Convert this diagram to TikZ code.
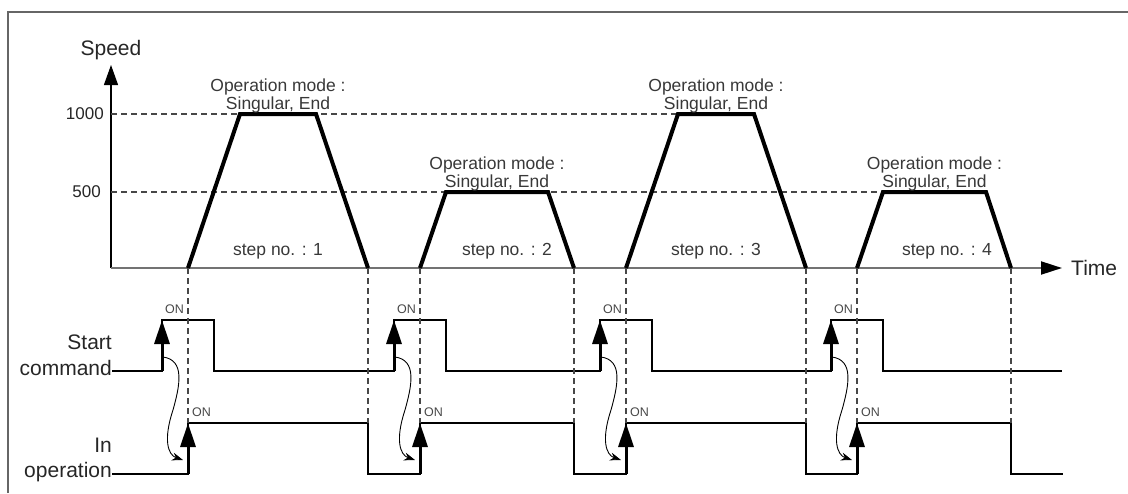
\documentclass[tikz,border=0pt]{standalone}
\usepackage{fontspec}
\setmainfont{Liberation Sans}
\usetikzlibrary{arrows.meta}

\begin{document}
\begin{tikzpicture}[
  x=1pt, y=-1pt,
  lbl/.style={font=\fontsize{21}{24}\selectfont, text=black!85, inner sep=0pt},
  val/.style={font=\fontsize{17}{20}\selectfont, text=black!85, inner sep=0pt},
  note/.style={font=\fontsize{17.5}{20}\selectfont, text=black!78, inner sep=0pt},
  onlbl/.style={font=\fontsize{12.5}{14}\selectfont, text=black!72, inner sep=0pt},
  guide/.style={draw=black!72, line width=1.1pt, dash pattern=on 6pt off 4pt},
  profile/.style={line width=4pt, line join=miter},
  sig/.style={line width=1.3pt},
  edge/.style={line width=3pt, -{Triangle[length=24pt, width=15pt]}},
  cause/.style={line width=0.9pt, -{Stealth[length=11pt, width=8pt]}}
]
\useasboundingbox (0,0) rectangle (1128,493);
\draw[black!60, line width=1.5pt] (8,493) |- (1128,12);

% axes
\coordinate (O) at (111,268);
\coordinate (ytip) at (111,65);
\coordinate (xtip) at (1062,268);
\draw[line width=1.3pt, -{Triangle[length=20pt, width=14pt]}] (O) -- (ytip);
\draw[black!55, line width=2pt, -{Triangle[length=21pt, width=13pt, color=black]}] (O) -- (xtip);
\node[lbl] (speed) at (111,50) {Speed};
\node[lbl, anchor=west] (time) at (1071,268) {Time};
\node[val, anchor=east] (v1000) at (104,114) {1000};
\node[val, anchor=east] (v500) at (101,192) {500};
\draw[guide] (111,114) -- (754,114);
\draw[guide] (111,192) -- (883,192);

% signal names
\node[lbl, anchor=base east] (startA) at (112,349) {Start};
\node[lbl, anchor=base east] (startB) at (112,375) {command};
\node[lbl, anchor=base east] (runA) at (112,452) {In};
\node[lbl, anchor=base east] (runB) at (112,477) {operation};

% signals
\draw[sig] (112,371) -- (162,371) -- (162,320) -- (214,320) -- (214,371)
  -- (394,371) -- (394,320) -- (446,320) -- (446,371)
  -- (600,371) -- (600,320) -- (652,320) -- (652,371)
  -- (831,371) -- (831,320) -- (883,320) -- (883,371) -- (1062,371);
\draw[sig] (112,474) -- (188,474) -- (188,423) -- (368,423) -- (368,474)
  -- (420,474) -- (420,423) -- (574,423) -- (574,474)
  -- (626,474) -- (626,423) -- (806,423) -- (806,474)
  -- (857,474) -- (857,423) -- (1011,423) -- (1011,474) -- (1063,474);

% steps
\foreach \n/\a/\b/\c/\d/\v/\sx in {1/188/240/316/368/114/278,
    2/420/446/548/574/192/507, 3/626/678/754/806/114/716,
    4/857/883/986/1011/192/947} {
  \pgfmathsetmacro\r{\a-26}
  \pgfmathsetmacro\m{(\b+\c)/2}
  \draw[profile] (\a,268) -- (\b,\v) -- (\c,\v) -- (\d,268);
  \node[note] (mode\n) at (\m,\v-27) {Operation mode :};
  \node[note] (kind\n) at (\m,\v-9) {Singular, End};
  \node[note] (step\n) at (\sx,251) {step no. : \n};
  \draw[guide] (\a,268) -- (\a,423);
  \draw[guide] (\d,268) -- (\d,423);
  \coordinate (rise\n) at (\r,371);
  \coordinate (high\n) at (\r,320);
  \coordinate (busy\n) at (\a,474);
  \coordinate (run\n) at (\a,423);
  \draw[edge] (rise\n) -- (high\n);
  \draw[edge] (busy\n) -- (run\n);
  \node[onlbl, anchor=east] (on\n) at (\a-4,309) {ON};
  \node[onlbl, anchor=west] (op\n) at (\a+4,412) {ON};
  \coordinate (from\n) at (\r+1,357);
  \coordinate (to\n) at (\a-5,460);
  \draw[cause] (from\n) .. controls (\r+23,360) and (\r+18,385) .. (\r+11,410)
    .. controls (\r+1,440) and (\r+6,455) .. (to\n);
}
\end{tikzpicture}
\end{document}
